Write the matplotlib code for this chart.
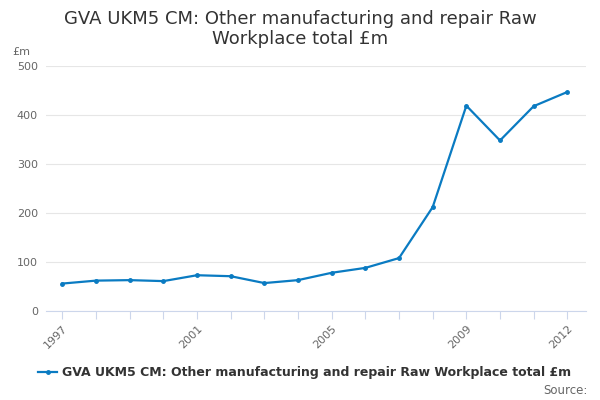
import matplotlib.pyplot as plt

# годы и значения ряда (£m)
years = list(range(1997, 2013))
values = [56, 62, 63, 61, 73, 71, 57, 63, 78, 88, 108, 212, 419, 348, 418, 447]
label_years = [1997, 2001, 2005, 2009, 2012]
y_ticks = [0, 100, 200, 300, 400, 500]

title = 'GVA UKM5 CM: Other manufacturing and repair Raw\nWorkplace total £m'
series_name = 'GVA UKM5 CM: Other manufacturing and repair Raw Workplace total £m'

line_col = '#0a7bc2'
text_col = '#333333'
grey = '#666666'

fig = plt.figure(figsize=(6, 4), dpi=100)
ax = fig.add_axes([0.077, 0.2225, 0.9, 0.6125])

ax.plot(years, values, color=line_col, linewidth=1.6, marker='o',
        markersize=2.5, label=series_name)

ax.set_xlim(1996.52, 2012.56)
ax.set_ylim(0, 500)

# сетка и оси
ax.set_yticks(y_ticks)
ax.grid(axis='y', color='#e6e6e6', linewidth=0.8)
ax.set_axisbelow(True)
for s in ['top', 'right', 'left']:
    ax.spines[s].set_visible(False)
ax.spines['bottom'].set_color('#ccd6eb')
ax.tick_params(axis='y', length=0, labelsize=8, labelcolor=grey, pad=6)

ax.set_xticks(years)
ax.set_xticklabels([str(y) if y in label_years else '' for y in years],
                   rotation=45, ha='right', rotation_mode='anchor')
ax.tick_params(axis='x', length=6, color='#ccd6eb', labelsize=8,
               labelcolor=grey, pad=3)

fig.text(0.5, 0.975, title, ha='center', va='top', fontsize=13,
         color=text_col, linespacing=1.15)
fig.text(0.02, 0.87, '£m', fontsize=8, color=grey, ha='left', va='center')

leg = fig.legend(loc='center', bbox_to_anchor=(0.508, 0.068), frameon=False,
                 fontsize=9, handlelength=1.5, handletextpad=0.4)
for t in leg.get_texts():
    t.set_fontweight('bold')
    t.set_color(text_col)

fig.text(0.98, 0.025, 'Source:', ha='right', va='center', fontsize=8.5,
         color=grey)

fig.savefig('out.png', dpi=100)
